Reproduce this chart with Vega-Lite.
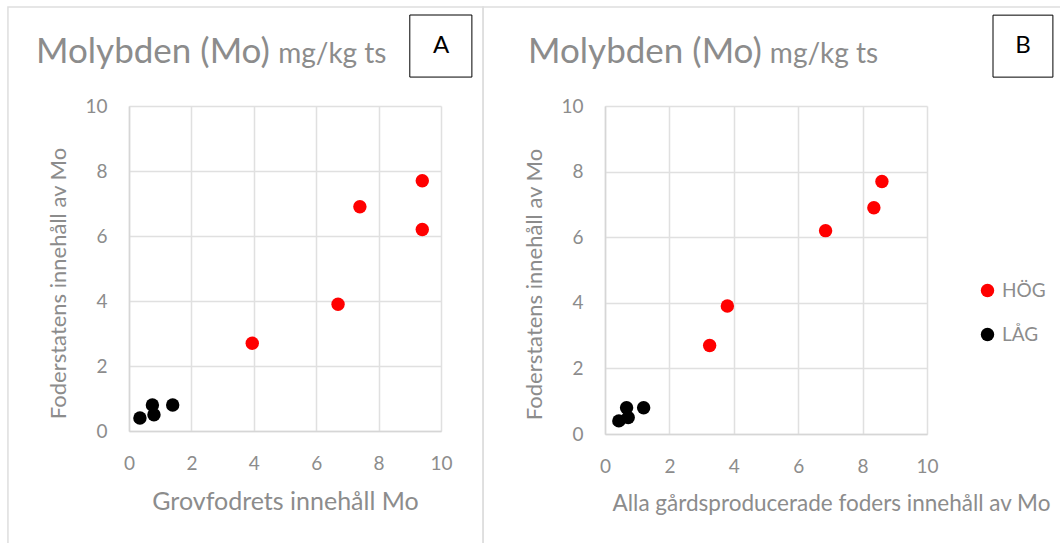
{
  "$schema": "https://vega.github.io/schema/vega-lite/v6.json",
  "autosize": {"type": "pad"},
  "padding": {"left": 7, "top": 6, "right": 0, "bottom": 0},
  "background": "white",
  "datasets": {
    "points": [
      {"panel": "A", "grupp": "HÖG", "x": 3.95, "y": 2.7},
      {"panel": "A", "grupp": "HÖG", "x": 6.7, "y": 3.9},
      {"panel": "A", "grupp": "HÖG", "x": 7.4, "y": 6.9},
      {"panel": "A", "grupp": "HÖG", "x": 9.4, "y": 6.2},
      {"panel": "A", "grupp": "HÖG", "x": 9.4, "y": 7.7},
      {"panel": "A", "grupp": "LÅG", "x": 0.35, "y": 0.4},
      {"panel": "A", "grupp": "LÅG", "x": 0.75, "y": 0.8},
      {"panel": "A", "grupp": "LÅG", "x": 0.8, "y": 0.5},
      {"panel": "A", "grupp": "LÅG", "x": 1.4, "y": 0.8},
      {"panel": "B", "grupp": "HÖG", "x": 3.25, "y": 2.7},
      {"panel": "B", "grupp": "HÖG", "x": 3.8, "y": 3.9},
      {"panel": "B", "grupp": "HÖG", "x": 6.85, "y": 6.2},
      {"panel": "B", "grupp": "HÖG", "x": 8.35, "y": 6.9},
      {"panel": "B", "grupp": "HÖG", "x": 8.6, "y": 7.7},
      {"panel": "B", "grupp": "LÅG", "x": 0.43, "y": 0.4},
      {"panel": "B", "grupp": "LÅG", "x": 0.67, "y": 0.8},
      {"panel": "B", "grupp": "LÅG", "x": 0.72, "y": 0.5},
      {"panel": "B", "grupp": "LÅG", "x": 1.2, "y": 0.8}
    ]
  },
  "config": {
    "font": "Lato",
    "view": {"stroke": null},
    "axis": {
      "grid": true,
      "gridColor": "#e0e0e0",
      "gridWidth": 1.5,
      "domainColor": "#d6d6d6",
      "domainWidth": 1.5,
      "ticks": false,
      "labelFlush": false,
      "labelColor": "#8c8c8c",
      "titleColor": "#8c8c8c",
      "labelFontSize": 19,
      "titleFontSize": 22,
      "titleFontWeight": "normal",
      "labelFont": "Lato",
      "titleFont": "Lato"
    }
  },
  "spacing": 164,
  "bounds": "flush",
  "resolve": {"legend": {"color": "independent"}},
  "hconcat": [
    {
      "width": 312,
      "height": 325,
      "layer": [
        {
          "data": {"values": [{}]},
          "mark": {"type": "rect", "fill": null, "stroke": "#dedede", "strokeWidth": 1.5},
          "encoding": {
            "x": {"datum": -3.88, "type": "quantitative"},
            "x2": {"datum": 11.35},
            "y": {"datum": 13.05, "type": "quantitative"},
            "y2": {"datum": -3.66}
          }
        },
        {
          "data": {"name": "points"},
          "transform": [{"filter": "datum.panel == 'A'"}],
          "mark": {"type": "circle", "size": 180, "opacity": 1},
          "encoding": {
            "x": {"field": "x", "type": "quantitative", "scale": {"domain": [0, 10], "nice": false, "zero": false},
              "axis": {"title": "Grovfodrets innehåll Mo", "values": [0, 2, 4, 6, 8, 10], "labelPadding": 23, "titlePadding": 16, "titleFontSize": 25}},
            "y": {"field": "y", "type": "quantitative", "scale": {"domain": [0, 10], "nice": false, "zero": false},
              "axis": {"title": "Foderstatens innehåll av Mo", "values": [0, 2, 4, 6, 8, 10], "labelPadding": 22, "titlePadding": 14, "titleY": 177}},
            "color": {"field": "grupp", "type": "nominal", "scale": {"domain": ["HÖG", "LÅG"], "range": ["#ff0000", "#000000"]}, "legend": null}
          }
        },
        {
          "data": {"values": [{}]},
          "mark": {"type": "text", "fontSize": 35, "align": "left", "baseline": "alphabetic", "color": "#8c8c8c"},
          "encoding": {"x": {"datum": -2.98, "type": "quantitative"}, "y": {"datum": 11.32, "type": "quantitative"}, "text": {"value": "Molybden (Mo)"}}
        },
        {
          "data": {"values": [{}]},
          "mark": {"type": "text", "fontSize": 28, "align": "left", "baseline": "alphabetic", "color": "#8c8c8c"},
          "encoding": {"x": {"datum": 4.78, "type": "quantitative"}, "y": {"datum": 11.32, "type": "quantitative"}, "text": {"value": "mg/kg ts"}}
        },
        {
          "data": {"values": [{}]},
          "mark": {"type": "rect", "fill": "white", "stroke": "#000000", "strokeWidth": 1},
          "encoding": {
            "x": {"datum": 9.0, "type": "quantitative"},
            "x2": {"datum": 10.99},
            "y": {"datum": 12.8, "type": "quantitative"},
            "y2": {"datum": 10.89}
          }
        },
        {
          "data": {"values": [{}]},
          "mark": {"type": "text", "fontSize": 24, "align": "center", "baseline": "middle", "color": "#000000"},
          "encoding": {"x": {"datum": 10.0, "type": "quantitative"}, "y": {"datum": 11.85, "type": "quantitative"}, "text": {"value": "A"}}
        }
      ]
    },
    {
      "width": 322,
      "height": 328,
      "layer": [
        {
          "data": {"values": [{}]},
          "mark": {"type": "rect", "fill": null, "stroke": "#dedede", "strokeWidth": 1.5},
          "encoding": {
            "x": {"datum": -3.79, "type": "quantitative"},
            "x2": {"datum": 14.44},
            "y": {"datum": 13.02, "type": "quantitative"},
            "y2": {"datum": -3.54}
          }
        },
        {
          "data": {"name": "points"},
          "transform": [{"filter": "datum.panel == 'B'"}],
          "mark": {"type": "circle", "size": 180, "opacity": 1},
          "encoding": {
            "x": {"field": "x", "type": "quantitative", "scale": {"domain": [0, 10], "nice": false, "zero": false},
              "axis": {"title": "Alla gårdsproducerade foders innehåll av Mo", "values": [0, 2, 4, 6, 8, 10], "labelPadding": 23, "titlePadding": 16, "titleX": 226, "titleFontSize": 22.5}},
            "y": {"field": "y", "type": "quantitative", "scale": {"domain": [0, 10], "nice": false, "zero": false},
              "axis": {"title": "Foderstatens innehåll av Mo", "values": [0, 2, 4, 6, 8, 10], "labelPadding": 22, "titlePadding": 14, "titleY": 178}},
            "color": {"field": "grupp", "type": "nominal", "scale": {"domain": ["HÖG", "LÅG"], "range": ["#ff0000", "#000000"]},
              "legend": {"title": null, "orient": "none", "legendX": 373, "legendY": 175, "symbolType": "circle", "symbolSize": 180, "symbolStrokeWidth": 0, "labelFontSize": 19, "labelColor": "#8c8c8c", "rowPadding": 24, "labelOffset": 5, "padding": 0}}
          }
        },
        {
          "data": {"values": [{}]},
          "mark": {"type": "text", "fontSize": 35, "align": "left", "baseline": "alphabetic", "color": "#8c8c8c"},
          "encoding": {"x": {"datum": -2.39, "type": "quantitative"}, "y": {"datum": 11.31, "type": "quantitative"}, "text": {"value": "Molybden (Mo)"}}
        },
        {
          "data": {"values": [{}]},
          "mark": {"type": "text", "fontSize": 28, "align": "left", "baseline": "alphabetic", "color": "#8c8c8c"},
          "encoding": {"x": {"datum": 5.12, "type": "quantitative"}, "y": {"datum": 11.31, "type": "quantitative"}, "text": {"value": "mg/kg ts"}}
        },
        {
          "data": {"values": [{}]},
          "mark": {"type": "rect", "fill": "white", "stroke": "#000000", "strokeWidth": 1},
          "encoding": {
            "x": {"datum": 12.05, "type": "quantitative"},
            "x2": {"datum": 13.91},
            "y": {"datum": 12.77, "type": "quantitative"},
            "y2": {"datum": 10.88}
          }
        },
        {
          "data": {"values": [{}]},
          "mark": {"type": "text", "fontSize": 24, "align": "center", "baseline": "middle", "color": "#000000"},
          "encoding": {"x": {"datum": 12.98, "type": "quantitative"}, "y": {"datum": 11.83, "type": "quantitative"}, "text": {"value": "B"}}
        }
      ]
    }
  ]
}
